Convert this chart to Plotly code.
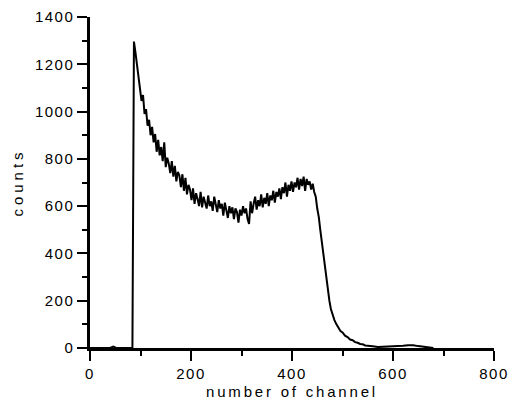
import plotly.graph_objects as go

# channel numbers and counts
channels = [0, 40, 46, 52, 84, 85, 86,
            87, 90, 93, 96, 99, 102, 105, 108, 111, 114, 117, 120, 123, 126, 129,
            132, 135, 138, 141, 144, 147, 150, 153, 156, 159, 162, 165, 168, 171,
            174, 177, 180, 183, 186, 189, 192, 195, 198, 201, 204, 207, 210, 213,
            216, 219, 222, 225, 228, 231, 234, 237, 240, 243, 246, 249, 252, 255,
            258, 261, 264, 267, 270, 273, 276, 279, 282, 285, 288, 291, 294, 297,
            300, 303, 306, 309, 312, 315, 318, 321, 324, 327, 330, 333, 336, 339,
            342, 345, 348, 351, 354, 357, 360, 363, 366, 369, 372, 375, 378, 381,
            384, 387, 390, 393, 396, 399, 402, 405, 408, 411, 414, 417, 420, 423,
            426, 429, 432, 435, 438, 441, 444, 447, 450, 453, 456, 459, 462, 465,
            468, 471, 474, 477, 480,
            484, 488, 492, 496, 500, 505, 510, 515, 520, 525, 530, 535, 540, 545,
            550, 555, 560, 570, 580, 590, 600, 610, 620, 630, 640, 650, 660, 670,
            680]
counts = [0, 0, 6, 0, 0, 320, 800,
          1296, 1250, 1195, 1140, 1105, 1045, 1070, 990, 1010, 940, 965, 900, 935, 870, 905,
          830, 880, 815, 850, 790, 870, 765, 805, 780, 740, 790, 725, 770, 705,
          745, 730, 680, 735, 665, 720, 650, 690, 670, 625, 675, 610, 655, 630,
          600, 660, 595, 640, 615, 590, 645, 600, 620, 580, 640, 600, 575, 625,
          590, 610, 560, 615, 585, 550, 600, 570, 595, 545, 590, 575, 530, 585,
          560, 600, 570, 590, 545, 525, 620, 570, 610, 640, 585, 625, 600, 650,
          595, 635, 610, 655, 600, 645, 625, 665, 615, 660, 640, 675, 630, 680,
          655, 700, 640, 690, 665, 705, 660, 700, 680, 720, 670, 715, 685, 725,
          665, 715, 690, 705, 670, 695, 660, 640, 590, 555, 500, 450, 400, 340,
          285, 235, 200, 165, 140,
          118, 100, 88, 72, 66, 52, 46, 36, 33, 25, 22, 17, 16, 11,
          10, 7, 7, 4, 5, 4, 6, 6, 10, 12, 12, 8, 5, 1,
          0]

x_tickvals = [0, 200, 400, 600, 800]
y_tickvals = [0, 200, 400, 600, 800, 1000, 1200, 1400]

def spaced(s, px):
    return f'<span style="letter-spacing:{px}px">{s}</span>'

fig = go.Figure()
fig.add_trace(go.Scatter(x=channels, y=counts, mode="lines",
                         line=dict(color="black", width=2), showlegend=False))

font = dict(family="Liberation Sans, Arial, sans-serif", size=15, color="black")

fig.update_layout(
    width=515, height=402,
    margin=dict(l=90, r=21, t=17, b=54),
    paper_bgcolor="white", plot_bgcolor="white",
    font=font,
)
fig.update_xaxes(
    range=[0, 800], showgrid=False, zeroline=False, automargin=False,
    showline=True, linecolor="black", linewidth=2.5,
    ticks="outside", ticklen=10, tickwidth=2, tickcolor="black",
    tickvals=x_tickvals, ticktext=[spaced(str(v), 1.5) for v in x_tickvals],
    minor=dict(ticks="outside", ticklen=5, tickwidth=2, tickcolor="black", dtick=100, tick0=0),
    title=dict(text=spaced("number of channel", 2.8), standoff=6, font=font),
    tickfont=font,
)
fig.update_yaxes(
    range=[0, 1400], showgrid=False, zeroline=False, automargin=False,
    showline=True, linecolor="black", linewidth=2.5,
    ticks="outside", ticklen=10, tickwidth=2, tickcolor="black",
    tickvals=y_tickvals, ticktext=[spaced(str(v), 1.5) for v in y_tickvals],
    minor=dict(ticks="outside", ticklen=5, tickwidth=2, tickcolor="black", dtick=100, tick0=0),
    title=dict(text=spaced("counts", 4), standoff=8, font=font),
    tickfont=font,
)

fig.write_html("out.html")
